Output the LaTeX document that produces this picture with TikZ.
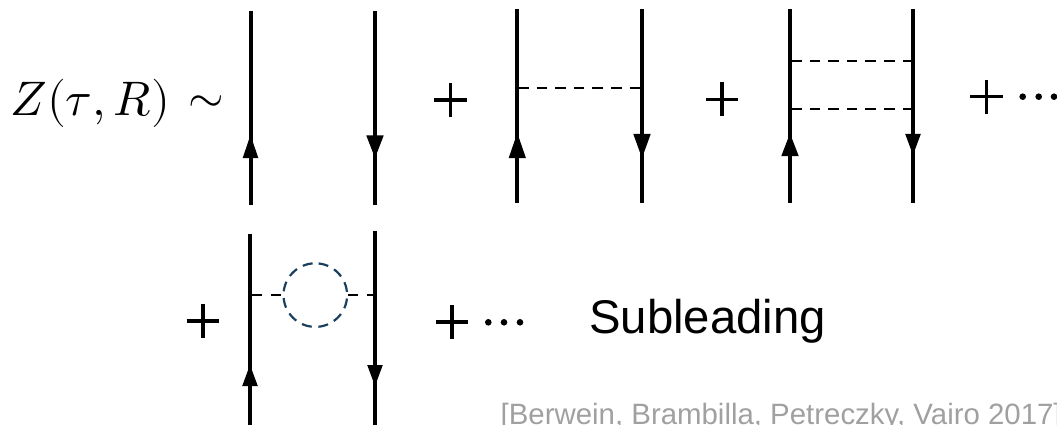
\documentclass[tikz,border=0pt]{standalone}
\usepackage{fontspec}
\setmainfont{Liberation Sans}
\usepackage{unicode-math}
\setmathfont{Latin Modern Math}
\begin{document}
\begin{tikzpicture}[x=1pt,y=-1pt,
  quark/.style={line width=4pt,black},
  gluon/.style={line width=2.3pt,black,dash pattern=on 10.5pt off 8.1pt},
  headfill/.style={fill=black},
  stroke/.style={line width=3.2pt,black},
  dotfill/.style={fill=black},
  lbl/.style={inner sep=0pt,anchor=base west},
]
\definecolor{loopblue}{HTML}{1B3F5E}
\tikzset{loopline/.style={line width=2.2pt,color=loopblue,dash pattern=on 10pt off 6.7pt,dash phase=13.4pt}}
\useasboundingbox (0,0) rectangle (1057,425);
\newcommand{\quarkline}[4]{%
  \coordinate (#1t) at (#2,#3); \coordinate (#1b) at (#2,#4);
  \draw[quark] (#1t) -- (#1b);
}
\newcommand{\headtri}[4]{\fill[headfill] (#1,#2) -- (#1+#4,#3) -- (#1-#4,#3) -- cycle;}
\newcommand{\plusat}[2]{\draw[stroke] (#1-16.3,#2) -- (#1+16.3,#2) (#1,#2-17) -- (#1,#2+17);}

\node[lbl,font=\fontsize{48.5}{48.5}\selectfont] (formula) at (10.5,116) {$Z(\tau,R)$};
\node[lbl,font=\fontsize{46}{46}\selectfont] (tilde) at (188,113) {$\sim$};

% first diagram
\quarkline{a}{250.5}{11}{204.5}
\quarkline{b}{375}{11}{204.5}
\headtri{250.5}{135}{158}{7.8}
\headtri{375}{158}{135.5}{8.7}
\plusat{450.7}{100}

% second diagram
\quarkline{c}{517.3}{9}{203}
\quarkline{d}{642}{9}{203}
\headtri{517.3}{133}{158}{8.6}
\headtri{642}{158}{134}{8.7}
\coordinate (c1) at (518,88.3); \coordinate (d1) at (642,88.3);
\draw[gluon] (c1) -- (d1);
\plusat{722}{99.5}

% third diagram
\quarkline{e}{790}{9}{203}
\quarkline{f}{913}{9}{203}
\headtri{790}{133.5}{156}{8.7}
\headtri{913}{155}{134}{7.8}
\coordinate (e1) at (791,61.3); \coordinate (f1) at (913,61.3);
\coordinate (e2) at (791,109); \coordinate (f2) at (913,109);
\draw[gluon] (e1) -- (f1);
\draw[gluon] (e2) -- (f2);
\plusat{986.7}{96.7}
\foreach \px in {1022.7,1038.7,1054}{\fill[dotfill] (\px,96.7) circle (3.3);}

% fourth diagram
\quarkline{g}{250}{234}{425}
\quarkline{h}{375}{231}{425}
\headtri{250}{365}{386}{7.8}
\headtri{375}{386}{365}{7.8}
\plusat{203}{321}
\plusat{452}{322}
\node[circle,minimum size=63.6pt,inner sep=0pt] (loop) at (315.3,295.3) {};
\draw[loopline] (loop.north) arc[start angle=270,end angle=630,radius=31.8];
\coordinate (g1) at (252,295.3); \coordinate (h1) at (348,295.3);
\coordinate (h2) at (375,295.3);
\draw[gluon,dash pattern=on 10pt off 9pt] (g1) -- (loop.west);
\draw[gluon,dash pattern=on 10pt off 9pt] (h1) -- (h2);
\foreach \px in {488.3,504,520}{\fill[dotfill] (\px,322.3) circle (3.3);}

\node[lbl,font=\fontsize{47.3}{47.3}\selectfont] (sub) at (589,333.3) {Subleading};
\node[lbl,font=\fontsize{29.4}{29.4}\selectfont,text={rgb,255:red,160;green,160;blue,160}] (cite) at (500.5,424) {[Berwein, Brambilla, Petreczky, Vairo 2017]};
\end{tikzpicture}
\end{document}
